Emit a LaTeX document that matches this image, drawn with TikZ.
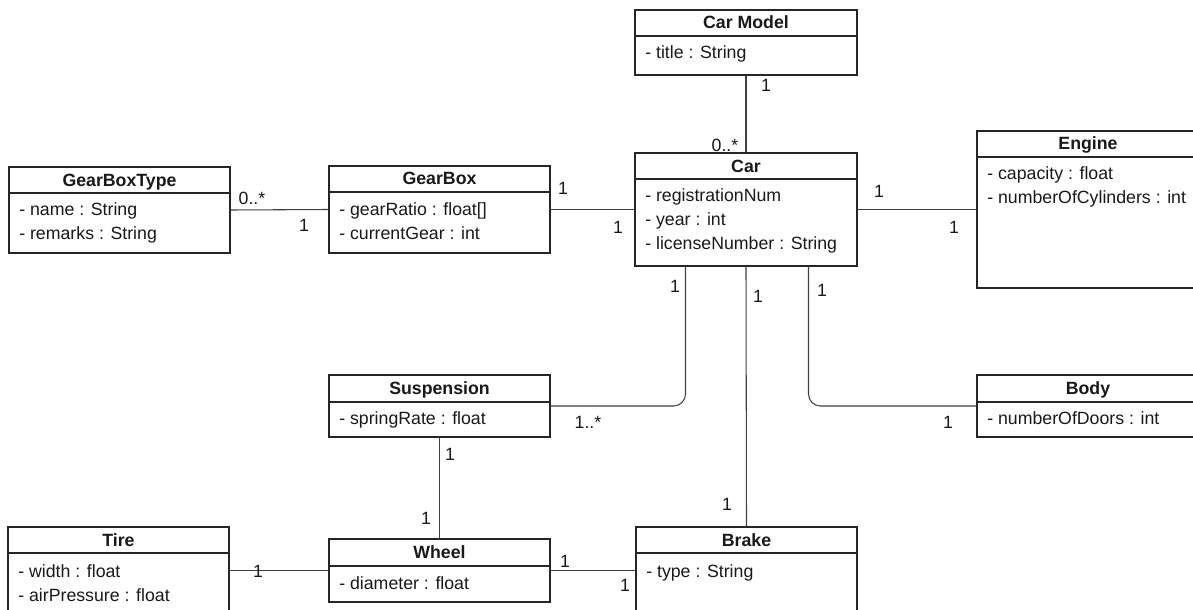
\documentclass[tikz,border=0pt]{standalone}
\usepackage{fontspec}
\setmainfont{Liberation Sans}
\usetikzlibrary{fit,calc}
\tikzset{
  umlbox/.style={draw=black!85, line width=1pt, inner sep=0pt, fill=white},
  boxline/.style={draw=black!85, line width=1pt},
  conn/.style={draw=black!75, line width=0.8pt},
  titletext/.style={font=\fontsize{13.3}{16}\selectfont\bfseries, inner sep=0pt, text=black!90},
  attrtext/.style={font=\fontsize{13.3}{16}\selectfont, inner sep=0pt, text=black!90},
  mult/.style={font=\fontsize{13.3}{16}\selectfont, inner sep=0pt, text=black!90},
}
\newcommand{\umlclass}[7]{%
  \node[umlbox, fit={(#2,#3) (#4,#5)}] (#1) {};
  \draw[boxline] (#1.west |- 0,#6) -- (#1.east |- 0,#6);
  \node[titletext, anchor=base] (#1-title) at ({(#2+#4)/2},{(#3+#6)/2+6}) {#7};
}
\newcommand{\umlattr}[4]{%
  \node[attrtext, anchor=base west] (#1) at (#2,#3) {#4};
}
\begin{document}
\begin{tikzpicture}[x=0.75pt, y=-0.75pt]
\useasboundingbox (0,0) rectangle (1193,610);
\fill[white] (0,0) rectangle (1193,610);

% classes
\umlclass{cm}{635}{10}{857}{75}{36}{Car Model}
\umlattr{cm-a1}{645}{59}{- title : String}

\umlclass{car}{635}{153}{857}{266}{179}{Car}
\umlattr{car-a1}{645}{201}{- registrationNum}
\umlattr{car-a2}{645}{225}{- year : int}
\umlattr{car-a3}{645}{249}{- licenseNumber : String}

\umlclass{engine}{977}{131}{1199}{288}{157}{Engine}
\umlattr{engine-a1}{987}{179}{- capacity : float}
\umlattr{engine-a2}{987}{203}{- numberOfCylinders : int}

\umlclass{gbt}{9}{167}{230}{253}{193}{GearBoxType}
\umlattr{gbt-a1}{19}{215}{- name : String}
\umlattr{gbt-a2}{19}{239}{- remarks : String}

\umlclass{gb}{329}{166}{550}{253}{192}{GearBox}
\umlattr{gb-a1}{339}{215}{- gearRatio : float[]}
\umlattr{gb-a2}{339}{239}{- currentGear : int}

\umlclass{susp}{329}{375}{550}{437}{402}{Suspension}
\umlattr{susp-a1}{339}{424}{- springRate : float}

\umlclass{body}{977}{375}{1199}{437}{402}{Body}
\umlattr{body-a1}{987}{424}{- numberOfDoors : int}

\umlclass{tire}{8}{527}{229}{614}{553}{Tire}
\umlattr{tire-a1}{18}{577}{- width : float}
\umlattr{tire-a2}{18}{601}{- airPressure : float}

\umlclass{wheel}{329}{539}{550}{602}{566}{Wheel}
\umlattr{wheel-a1}{339}{589}{- diameter : float}

\umlclass{brake}{636}{527}{857}{614}{553}{Brake}
\umlattr{brake-a1}{646}{577}{- type : String}

% connectors
\draw[conn] (cm.south) -- (car.north);
\draw[conn] (gbt.east) -- (gb.west);
\draw[conn] (gb.east) -- (car.west);
\draw[conn] (car.east) -- (engine.west);
\draw[conn, rounded corners=9] ($(car.south)+(-60.5,0)$) |- (susp.east);
\draw[conn] (car.south) -- (brake.north);
\draw[conn, rounded corners=9] ($(car.south)+(62.5,0)$) |- (body.west);
\draw[conn] (susp.south) -- (wheel.north);
\draw[conn] (tire.east) -- (wheel.west);
\draw[conn] (wheel.east) -- (brake.west);

% multiplicities
\node[mult] (m1) at (766,85) {1};
\node[mult] (m2) at (725,145) {0..*};
\node[mult] (m3) at (252,198) {0..*};
\node[mult] (m4) at (304,225) {1};
\node[mult] (m5) at (563,188) {1};
\node[mult] (m6) at (618,227) {1};
\node[mult] (m7) at (879,191) {1};
\node[mult] (m8) at (954,227) {1};
\node[mult] (m9) at (675,286) {1};
\node[mult] (m10) at (588,422) {1..*};
\node[mult] (m11) at (758,296) {1};
\node[mult] (m12) at (727,504) {1};
\node[mult] (m13) at (822,290) {1};
\node[mult] (m14) at (948,422) {1};
\node[mult] (m15) at (450,454) {1};
\node[mult] (m16) at (426,518) {1};
\node[mult] (m17) at (258,571) {1};
\node[mult] (m18) at (565,561) {1};
\node[mult] (m19) at (625,585) {1};
\end{tikzpicture}
\end{document}
